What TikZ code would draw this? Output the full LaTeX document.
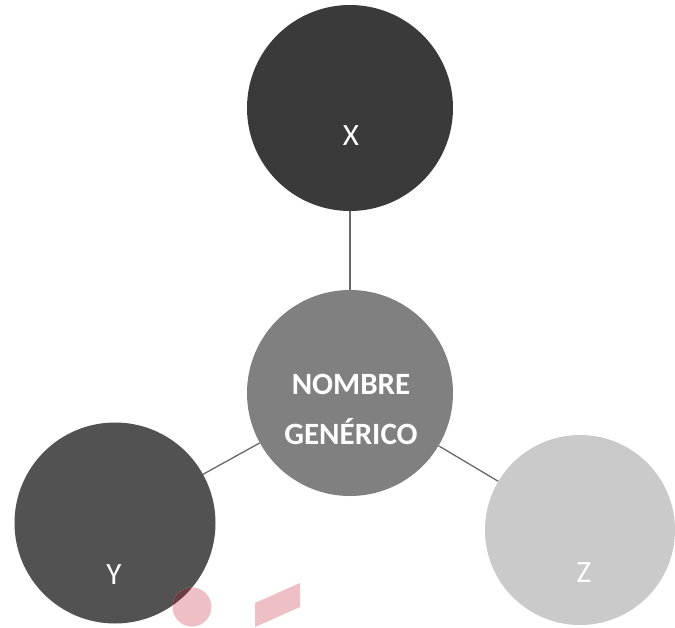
\documentclass[tikz,border=0pt]{standalone}
\usepackage{fontspec}
\setmainfont{Carlito}
\usepackage{tikz}
\usetikzlibrary{positioning}
\definecolor{Oscuro}{RGB}{58, 58, 58}
\definecolor{Medio}{RGB}{128, 128, 128}
\definecolor{Pizarra}{RGB}{82, 82, 82}
\definecolor{Claro}{RGB}{202, 202, 202}
\definecolor{Linea}{RGB}{105, 105, 105}
\definecolor{Rosa}{RGB}{238, 192, 197}
\definecolor{Granate}{RGB}{104, 62, 66}

\begin{document}
\begin{tikzpicture}[
        x=1pt, y=-1pt,
        bola/.style={
            circle,
            draw=none,
            inner sep=0pt
        },
        etiqueta/.style={
            text=white,
            align=center,
            font=\fontsize{31}{50}\selectfont
        },
        enlace/.style={
            draw=Linea,
            line width=1.3pt
        }
    ]
        \useasboundingbox (0, 0) rectangle (675, 627);
        \fill[white] (0, 0) rectangle (675, 627);

        % Circles (center, X, Y, Z)
        \node[bola, fill=Medio, minimum size=206pt] (centro) at (350, 393) {};
        \node[bola, fill=Oscuro, minimum size=206pt] (x) at (350, 108) {};
        \node[bola, fill=Pizarra, minimum size=201pt] (y) at (115, 523) {};
        \node[bola, fill=Claro, minimum size=190pt] (z) at (580, 530) {};

        % Connections
        \draw[enlace] (centro) -- (x);
        \draw[enlace] (centro) -- (y);
        \draw[enlace] (centro) -- (z);

        % Labels
        \node[etiqueta, font=\bfseries\fontsize{31}{50}\selectfont] (nombre) at (351, 409) {NOMBRE\\GENÉRICO};
        \node[etiqueta] (xlab) at (351, 136) {X};
        \node[etiqueta] (ylab) at (114, 575) {Y};
        \node[etiqueta] (zlab) at (584, 573) {Z};

        % Pink marks at the bottom
        \fill[Rosa] (192, 607) circle (19.5);
        \fill[Rosa] (255, 603) -- (300, 583) -- (300, 607) -- (255, 627) -- cycle;
        \begin{scope}
            \clip (y.center) circle (100.5);
            \fill[Granate] (192, 607) circle (19.5);
        \end{scope}

    \end{tikzpicture}
\end{document}
